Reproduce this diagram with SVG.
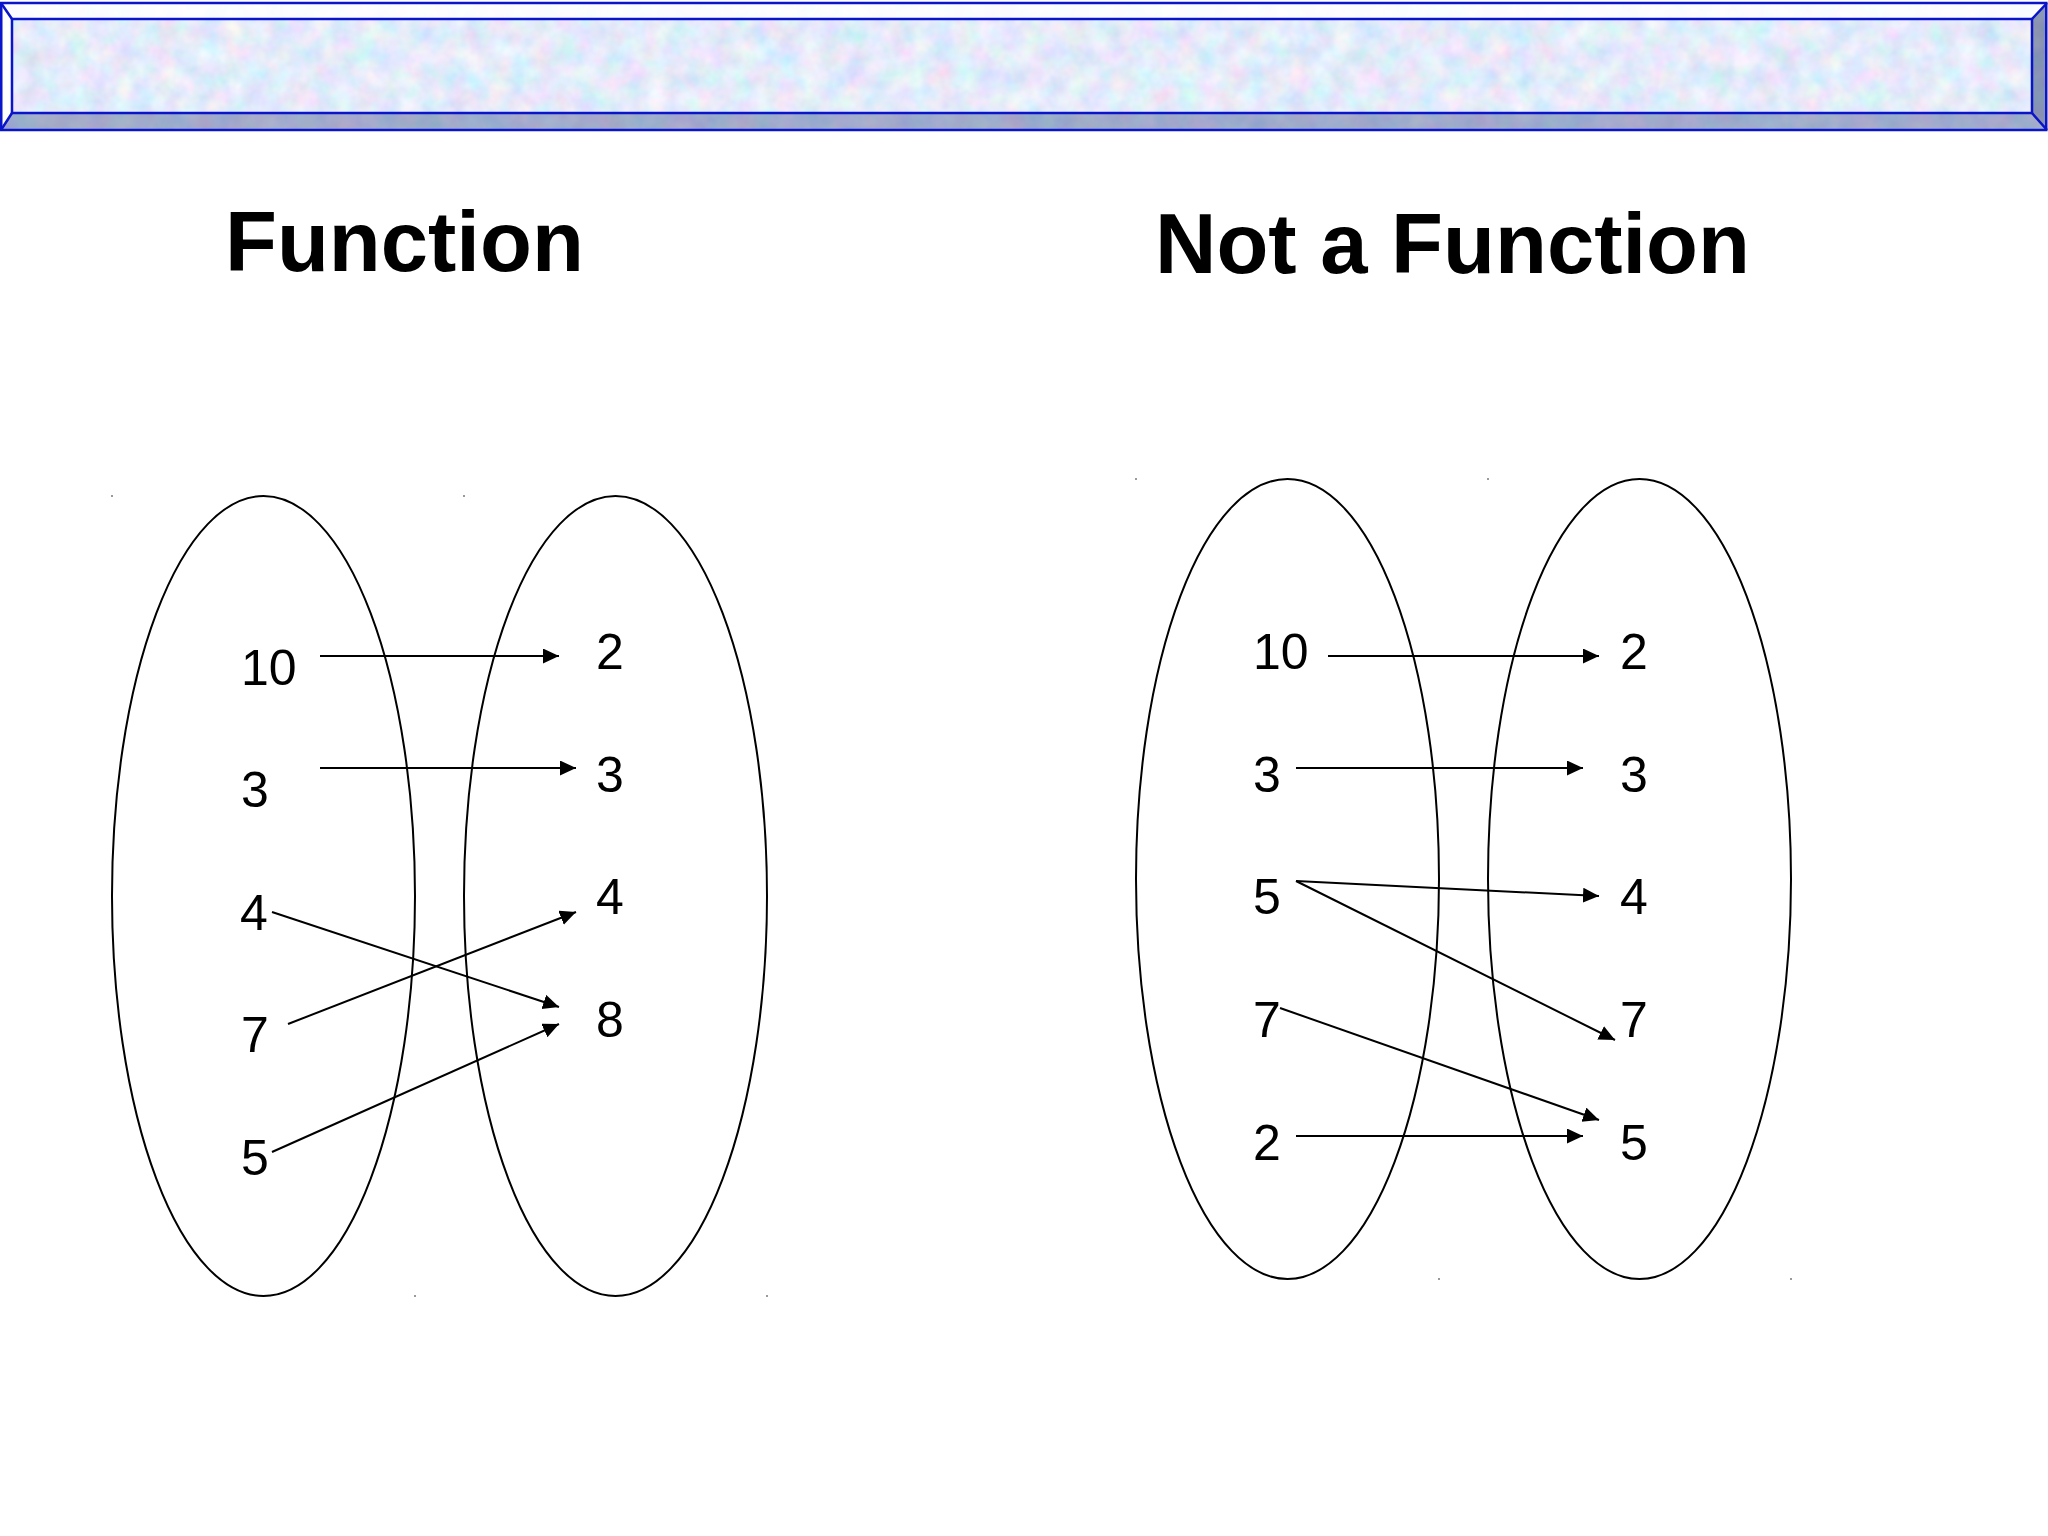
<svg xmlns="http://www.w3.org/2000/svg" width="2048" height="1536" viewBox="0 0 2048 1536">
  <style>
    .title { font-family: "Liberation Sans", Arial, sans-serif; font-weight: bold; font-size: 85px; fill: #000; }
    .num { font-family: "Liberation Sans", Arial, sans-serif; font-size: 50px; fill: #000; }
    .set { fill: none; stroke: #000; stroke-width: 2; }
    .edge { fill: none; stroke: #000; stroke-width: 2; marker-end: url(#arrow); }
    .bevel { fill: none; stroke: #0a14c8; stroke-width: 2.5; }
    .dot { fill: #9a9a9a; }
  </style>
  <defs>
    <marker id="arrow" markerUnits="userSpaceOnUse" markerWidth="17" markerHeight="16" refX="16" refY="7.5" orient="auto">
      <path d="M0,0 L16,7.5 L0,15 z" fill="#000"/>
    </marker>
    <filter id="tex" x="0" y="0" width="100%" height="100%" filterUnits="objectBoundingBox">
      <feTurbulence type="fractalNoise" baseFrequency="0.045" numOctaves="3" seed="7"/>
      <feColorMatrix type="matrix" values="0.55 0 0 0 0.5  0 0.35 0 0 0.66  0 0 0.25 0 0.83  0 0 0 0 1"/>
    </filter>
  </defs>
  <rect width="2048" height="1536" fill="#fff"/>

  <g id="banner">
    <rect x="0" y="3" width="2047" height="127" fill="#c6d6f2" filter="url(#tex)"/>
    <polygon points="0,3 2047,3 2032,19 12,19" fill="#fff" fill-opacity="0.85"/>
    <polygon points="0,3 12,19 12,113 0,130" fill="#fff" fill-opacity="0.95"/>
    <polygon points="0,130 12,113 2032,113 2047,130" fill="#3c4c88" fill-opacity="0.4"/>
    <polygon points="2047,3 2032,19 2032,113 2047,130" fill="#2a3a70" fill-opacity="0.5"/>
    <rect class="bevel" x="1.25" y="3" width="2045" height="127"/>
    <rect class="bevel" x="12" y="19" width="2020" height="94"/>
    <path class="bevel" d="M1,3 L12,19 M2047,3 L2032,19 M1,130 L12,113 M2047,130 L2032,113"/>
  </g>

  <g id="titles">
    <text id="title-function" class="title" x="225" y="271">Function</text>
    <text id="title-not-function" class="title" x="1155" y="273">Not a Function</text>
  </g>

  <g id="sets">
    <ellipse id="set-domain-1" class="set" cx="263.5" cy="896" rx="151.5" ry="400"/>
    <ellipse id="set-range-1" class="set" cx="615.5" cy="896" rx="151.5" ry="400"/>
    <ellipse id="set-domain-2" class="set" cx="1287.5" cy="879" rx="151.5" ry="400"/>
    <ellipse id="set-range-2" class="set" cx="1639.5" cy="879" rx="151.5" ry="400"/>
    <rect class="dot" x="111" y="495" width="2" height="2"/>
    <rect class="dot" x="463" y="495" width="2" height="2"/>
    <rect class="dot" x="414" y="1295" width="2" height="2"/>
    <rect class="dot" x="766" y="1295" width="2" height="2"/>
    <rect class="dot" x="1135" y="478" width="2" height="2"/>
    <rect class="dot" x="1487" y="478" width="2" height="2"/>
    <rect class="dot" x="1438" y="1278" width="2" height="2"/>
    <rect class="dot" x="1790" y="1278" width="2" height="2"/>
  </g>

  <g id="connectors">
    <line class="edge" x1="320" y1="656" x2="559" y2="656"/>
    <line class="edge" x1="320" y1="768" x2="576" y2="768"/>
    <line class="edge" x1="272" y1="912" x2="559" y2="1007"/>
    <line class="edge" x1="288" y1="1024" x2="576" y2="912"/>
    <line class="edge" x1="272" y1="1152" x2="559" y2="1024"/>
    <line class="edge" x1="1328" y1="656" x2="1599" y2="656"/>
    <line class="edge" x1="1296" y1="768" x2="1583" y2="768"/>
    <line class="edge" x1="1296" y1="881" x2="1599" y2="896"/>
    <line class="edge" x1="1296" y1="881" x2="1615" y2="1040"/>
    <line class="edge" x1="1280" y1="1008" x2="1599" y2="1120"/>
    <line class="edge" x1="1296" y1="1136" x2="1583" y2="1136"/>
  </g>

  <g id="labels-function-domain">
    <text id="f-d-10" class="num" x="241" y="685">10</text>
    <text id="f-d-3" class="num" x="241" y="807">3</text>
    <text id="f-d-4" class="num" x="240" y="930">4</text>
    <text id="f-d-7" class="num" x="241" y="1052">7</text>
    <text id="f-d-5" class="num" x="241" y="1175">5</text>
  </g>
  <g id="labels-function-range">
    <text id="f-r-2" class="num" x="596" y="669">2</text>
    <text id="f-r-3" class="num" x="596" y="792">3</text>
    <text id="f-r-4" class="num" x="596" y="914">4</text>
    <text id="f-r-8" class="num" x="596" y="1037">8</text>
  </g>
  <g id="labels-notfunction-domain">
    <text id="n-d-10" class="num" x="1253" y="669">10</text>
    <text id="n-d-3" class="num" x="1253" y="792">3</text>
    <text id="n-d-5" class="num" x="1253" y="914">5</text>
    <text id="n-d-7" class="num" x="1253" y="1037">7</text>
    <text id="n-d-2" class="num" x="1253" y="1160">2</text>
  </g>
  <g id="labels-notfunction-range">
    <text id="n-r-2" class="num" x="1620" y="669">2</text>
    <text id="n-r-3" class="num" x="1620" y="792">3</text>
    <text id="n-r-4" class="num" x="1620" y="914">4</text>
    <text id="n-r-7" class="num" x="1620" y="1037">7</text>
    <text id="n-r-5" class="num" x="1620" y="1160">5</text>
  </g>
</svg>
